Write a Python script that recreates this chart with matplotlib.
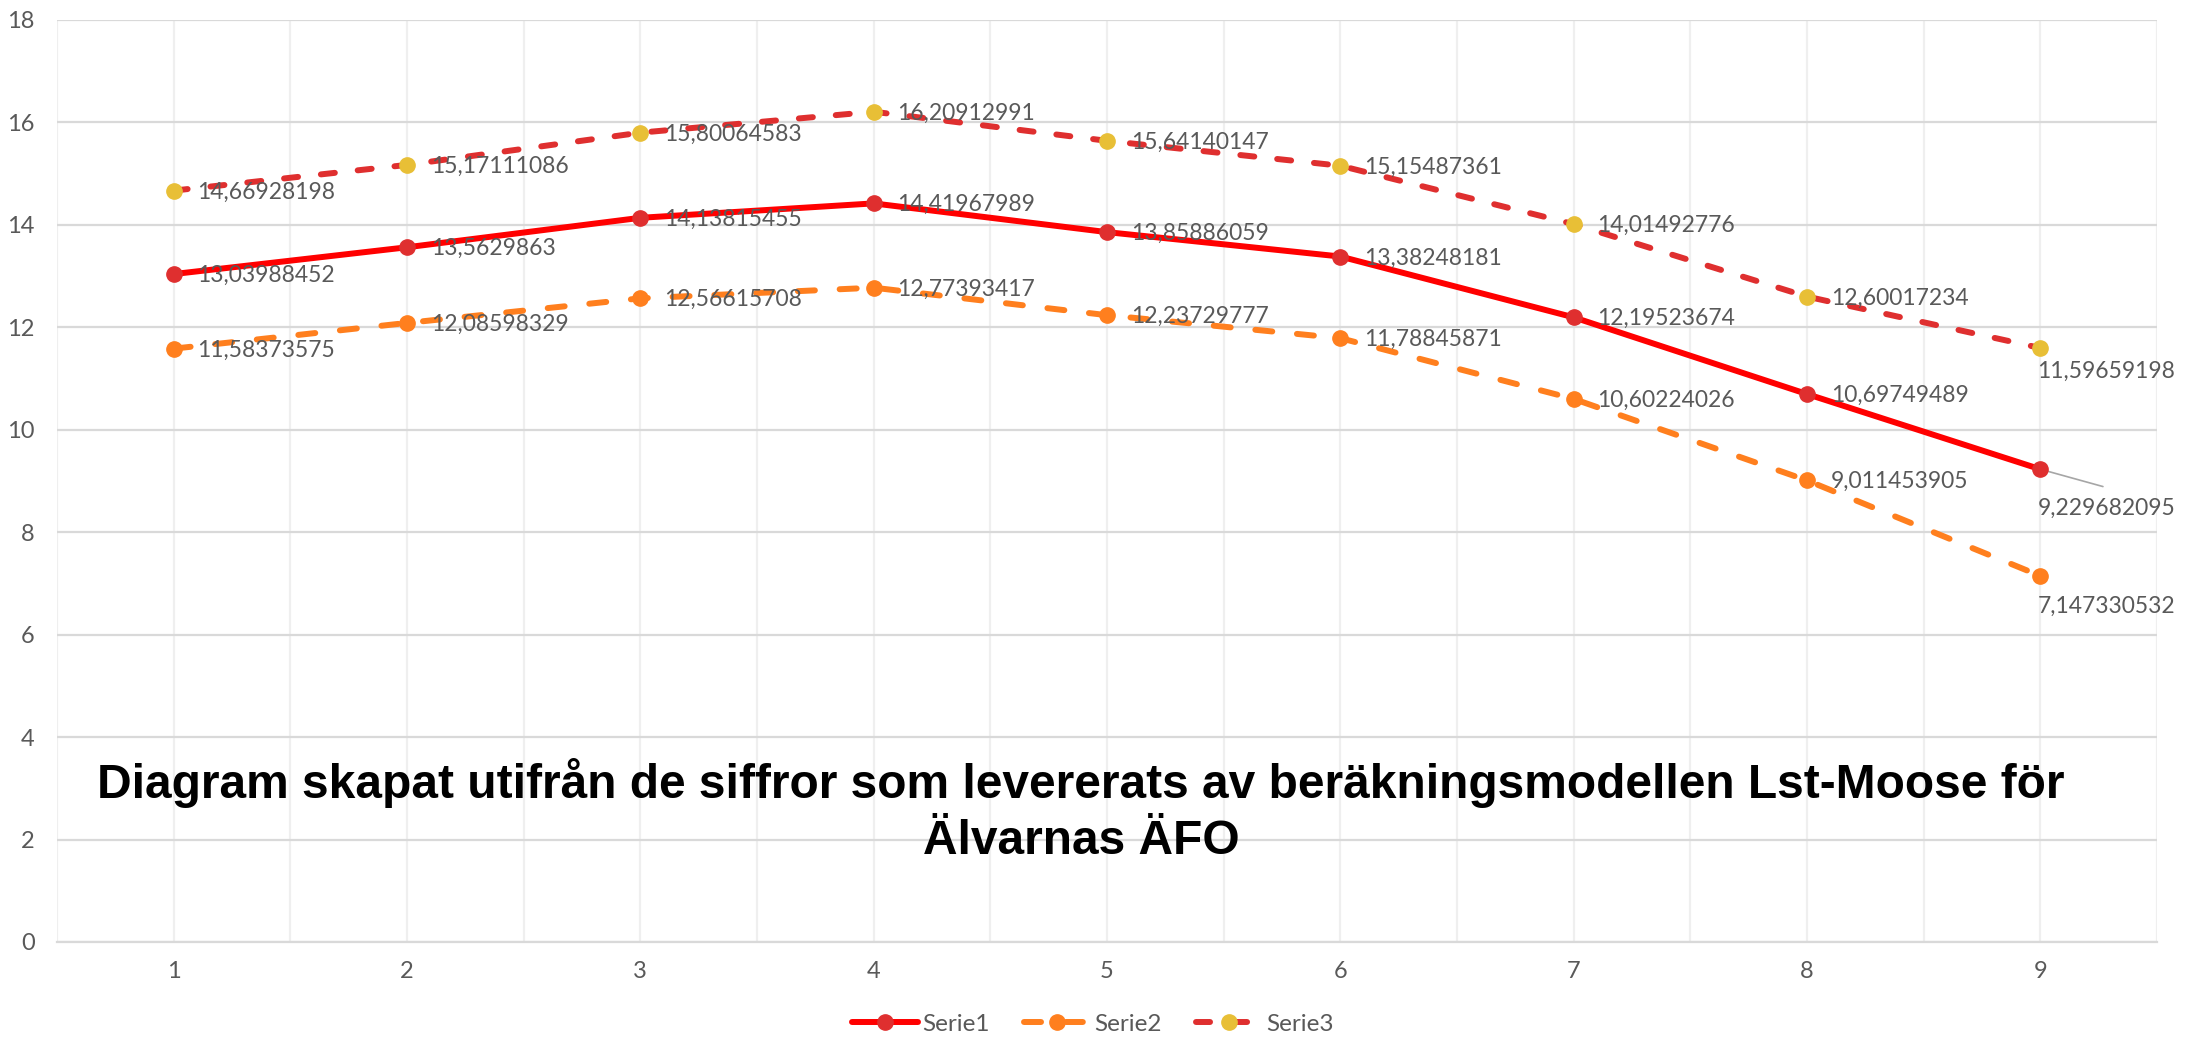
import numpy as np
import matplotlib
matplotlib.use("Agg")
import matplotlib.pyplot as plt

# data
categories = [1, 2, 3, 4, 5, 6, 7, 8, 9]
serie1 = [13.03988452, 13.5629863, 14.13815455, 14.41967989, 13.85886059,
          13.38248181, 12.19523674, 10.69749489, 9.229682095]
serie2 = [11.58373575, 12.08598329, 12.56615708, 12.77393417, 12.23729777,
          11.78845871, 10.60224026, 9.011453905, 7.147330532]
serie3 = [14.66928198, 15.17111086, 15.80064583, 16.20912991, 15.64140147,
          15.15487361, 14.01492776, 12.60017234, 11.59659198]
series_names = ['Serie1', 'Serie2', 'Serie3']
title = ("Diagram skapat utifrån de siffror som levererats av beräkningsmodellen Lst-Moose för\n"
         "Älvarnas ÄFO")

plt.rcParams['font.family'] = ['Lato', 'DejaVu Sans']
text_col = '#595959'


def fmt(v):
    # Excel "General" style with Swedish decimal comma
    return '{:.10g}'.format(v).replace('.', ',')


fig = plt.figure(figsize=(22.08, 10.37), dpi=100)
ax = fig.add_axes([57 / 2208, 1 - 942 / 1037, 2100 / 2208, 922 / 1037])

x = np.array(categories)
lw = 4.3
styles = [
    dict(line='#FF0000', marker='#DF2F2F', dash=None),
    dict(line='#FF7F1E', marker='#FF7F1E', dash=(2.85, 4.15)),
    dict(line='#DF2F2F', marker='#E8BF36', dash=(2.35, 3.85)),
]
for vals, name, st in zip([serie1, serie2, serie3], series_names, styles):
    ln, = ax.plot(x, vals, color=st['line'], lw=lw, marker='o', markersize=11,
                  markerfacecolor=st['marker'], markeredgecolor=st['marker'],
                  solid_capstyle='round', dash_capstyle='round', label=name, zorder=3)
    if st['dash'] is not None:
        ln.set_dashes(st['dash'])

# data labels: right of point, last ones below
for vals in [serie1, serie2, serie3]:
    for xi, v in zip(x[:-1], vals[:-1]):
        ax.annotate(fmt(v), (xi, v), xytext=(17, -1), textcoords='offset points',
                    ha='left', va='center', fontsize=16.5, color=text_col, zorder=4)

ax.annotate(fmt(serie3[-1]), (x[-1], serie3[-1]), xytext=(-2, -17), textcoords='offset points',
            ha='left', va='center', fontsize=16.5, color=text_col, zorder=4)
ax.annotate(fmt(serie2[-1]), (x[-1], serie2[-1]), xytext=(-2, -22), textcoords='offset points',
            ha='left', va='center', fontsize=16.5, color=text_col, zorder=4)
ax.annotate(fmt(serie1[-1]), (x[-1], serie1[-1]), xytext=(-2, -28), textcoords='offset points',
            ha='left', va='center', fontsize=16.5, color=text_col, zorder=4)
ax.annotate('', (x[-1], serie1[-1]), xytext=(47, -13), textcoords='offset points',
            arrowprops=dict(arrowstyle='-', color='#A6A6A6', lw=1.2), zorder=2)

ax.set_xlim(0.5, 9.5)
ax.set_ylim(0, 18)
ax.set_yticks(np.arange(0, 19, 2))
ax.set_xticks(x)
ax.set_xticks(np.arange(0.5, 10, 1), minor=True)
ax.grid(axis='y', which='major', color='#D9D9D9', lw=1.6, zorder=0)
ax.grid(axis='x', which='both', color='#EFEFEF', lw=1.6, zorder=0)
ax.tick_params(axis='both', which='both', length=0, labelsize=17, labelcolor=text_col)
ax.tick_params(axis='y', pad=16)
ax.tick_params(axis='x', pad=14)
for s in ['top', 'right', 'left']:
    ax.spines[s].set_visible(False)
ax.spines['bottom'].set_color('#D9D9D9')
ax.spines['bottom'].set_linewidth(1.6)
ax.set_axisbelow(True)

fig.text(1081 / 2208, 1 - 811 / 1037, title, ha='center', va='center',
         fontsize=34.5, fontweight='bold', family='Liberation Sans', color='black',
         linespacing=1.3)

fig.legend(loc='center', bbox_to_anchor=(1093 / 2208, 1 - 1024 / 1037), ncol=3,
           frameon=False, fontsize=17.5, labelcolor=text_col, handlelength=2.7,
           handletextpad=0.2, columnspacing=1.4)

fig.savefig('out.png', dpi=100)
